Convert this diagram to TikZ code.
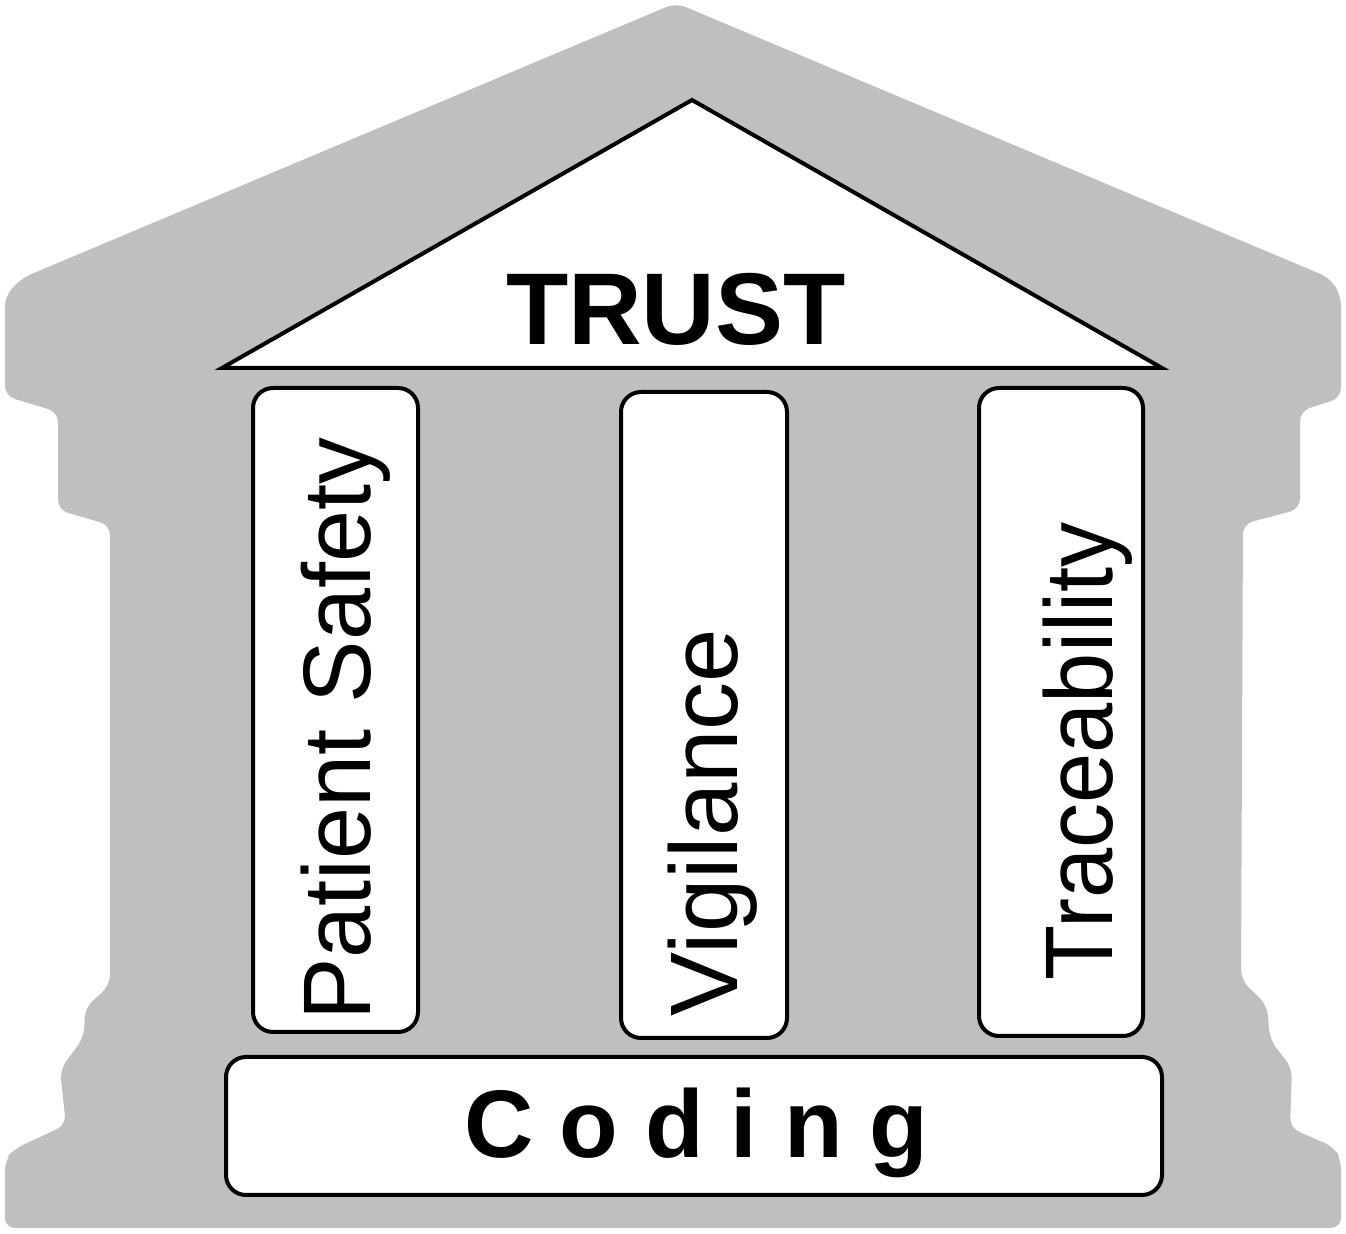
\documentclass[tikz,border=0pt]{standalone}
\usepackage{fontspec}
\setmainfont{Liberation Sans}
\definecolor{housegray}{RGB}{191,191,191}
\tikzset{
  pillar/.style={draw=black, fill=white, line width=2pt, rounded corners=10pt},
  pillarlabel/.style={rotate=90, anchor=base west, inner sep=0pt, font=\fontsize{48}{48}\selectfont},
  boldlabel/.style={anchor=base, inner sep=0pt, font=\fontsize{51}{51}\selectfont\bfseries},
}
\begin{document}
\begin{tikzpicture}[x=0.5pt, y=-0.5pt]
\useasboundingbox (0,0) rectangle (1346,1234);

% building outline
\fill[housegray, rounded corners=5pt] (676,3) -- (1330,278) -- (1341,296)
    -- (1341,398) -- (1300,411) -- (1300,509) -- (1243,524) -- (1241,980)
    -- (1267,1005) -- (1270,1040) -- (1292,1068) -- (1290,1128) -- (1334,1147)
    -- (1341,1160) -- (1341,1228) -- (5,1228) -- (5,1160) -- (14,1149)
    -- (66,1125) -- (60,1070) -- (84,1037) -- (85,1008) -- (110,985)
    -- (110,525) -- (58,510) -- (58,412) -- (5,396) -- (5,296) -- (22,278)
    -- cycle;

% roof
\draw[line width=2pt, fill=white] (222,368) -- (692,100) -- (1162,368) -- cycle;
\node[boldlabel] (trust) at (676,345) {TRUST};

% pillars
\draw[pillar] (253,388) rectangle (418,1032);
\draw[pillar] (621,392) rectangle (787,1038);
\draw[pillar] (979,388) rectangle (1143,1036);
\node[pillarlabel] (safety) at (370,1021) {\scalebox{0.975}[1]{Patient Safety}};
\node[pillarlabel] (vigilance) at (737,1017) {Vigilance};
\node[pillarlabel] (trace) at (1112,981) {\scalebox{0.94}[1]{Traceability}};

% base
\draw[pillar] (226,1057) rectangle (1162,1195);
\node[boldlabel, font=\fontsize{48}{48}\selectfont\bfseries] (coding) at (696,1158) {C o d i n g};
\end{tikzpicture}
\end{document}
